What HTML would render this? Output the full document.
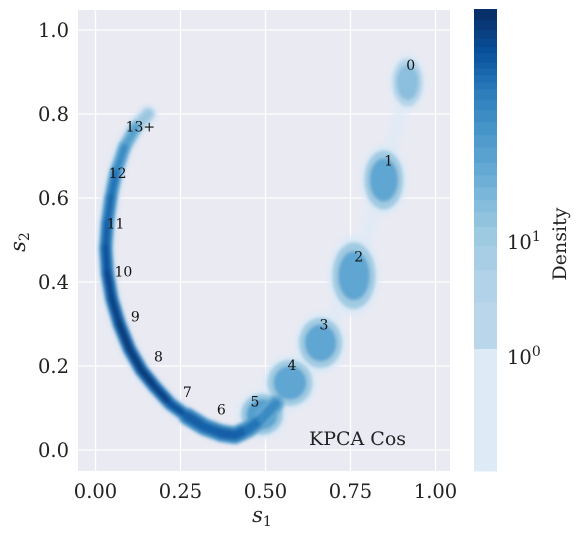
<!DOCTYPE html>
<html><head><meta charset="utf-8"><style>
body{margin:0;background:#fff;}
svg text{font-family:"DejaVu Serif","Liberation Serif",serif;}
</style></head><body>
<svg id="chart" width="578" height="535" xmlns="http://www.w3.org/2000/svg">
<defs>
<filter id="blur" x="-50%" y="-50%" width="200%" height="200%"><feGaussianBlur stdDeviation="3"/></filter>
<filter id="blur2" x="-50%" y="-50%" width="200%" height="200%"><feGaussianBlur stdDeviation="1.5"/></filter>
<clipPath id="plotclip"><rect x="78" y="10" width="372" height="461"/></clipPath>
</defs>
<rect x="78" y="10" width="372" height="461" fill="#eaeaf2"/>
<g id="grid"></g>
<g id="density" clip-path="url(#plotclip)"></g>
<g id="labels"></g>
<text x="309" y="445" font-size="19" fill="#222">KPCA Cos</text>
<g id="axes"></g>
<text x="262" y="522" font-size="21" font-style="italic" fill="#222" text-anchor="middle">s<tspan font-size="14" dy="4" font-style="normal">1</tspan></text>
<text transform="translate(25,242) rotate(-90)" font-size="21" font-style="italic" fill="#222" text-anchor="middle">s<tspan font-size="14" dy="4" font-style="normal">2</tspan></text>
<g id="colorbar"></g>
<text transform="translate(566,244) rotate(-90)" font-size="19" fill="#222" text-anchor="middle">Density</text>
</svg>
<script>
const xTicks=[0,0.25,0.5,0.75,1.0];
const xTickLabels=["0.00","0.25","0.50","0.75","1.00"];
const yTicks=[0,0.2,0.4,0.6,0.8,1.0];
const yTickLabels=["0.0","0.2","0.4","0.6","0.8","1.0"];
// arc ridge points (s1, s2) and relative density (0..1)
const arcX=[0.155,0.12,0.085,0.06,0.045,0.035,0.03,0.035,0.048,0.07,0.1,0.135,0.175,0.22,0.27,0.32,0.37,0.41,0.45,0.49,0.53];
const arcY=[0.80,0.77,0.72,0.66,0.60,0.54,0.48,0.42,0.36,0.30,0.24,0.19,0.15,0.11,0.08,0.055,0.04,0.035,0.05,0.075,0.11];
const arcD=[0.3,0.5,0.6,0.7,0.75,0.8,0.85,0.9,0.92,0.95,0.95,0.95,0.92,0.85,0.8,0.78,0.8,0.78,0.7,0.6,0.5];
// clusters
const clX=[0.918,0.848,0.76,0.662,0.572,0.49];
const clY=[0.875,0.643,0.415,0.255,0.16,0.085];
const clRx=[0.05,0.065,0.072,0.072,0.075,0.07];
const clRy=[0.065,0.08,0.09,0.068,0.062,0.055];
const clD=[0.4,0.55,0.55,0.55,0.55,0.6];
const labelText=["0","1","2","3","4","5","6","7","8","9","10","11","12","13+"];
const labelX=[0.927,0.862,0.774,0.672,0.578,0.469,0.37,0.27,0.185,0.117,0.082,0.059,0.065,0.132];
const labelY=[0.917,0.689,0.461,0.299,0.202,0.116,0.097,0.138,0.223,0.318,0.425,0.539,0.66,0.77];
// colorbar bands (fraction from top)
const cbEdges=[0,0.024,0.045,0.064,0.082,0.096,0.116,0.129,0.143,0.159,0.174,0.197,0.219,0.245,0.273,0.30,0.333,0.36,0.386,0.414,0.44,0.472,0.513,0.565,0.635,0.736,1];
const cbTicks=[1,0];
const cbTickLabels=["1","0"];

const NS="http://www.w3.org/2000/svg";
const sx=v=>95.5+340*v, sy=v=>450-420*v;
function mk(tag,attrs,parent){const e=document.createElementNS(NS,tag);for(const k in attrs)e.setAttribute(k,attrs[k]);parent.appendChild(e);return e;}
function blues(t){const stops=[[222,235,247],[198,219,239],[158,202,225],[107,174,214],[66,146,198],[33,113,181],[8,81,156],[8,48,107]];
 t=Math.max(0,Math.min(1,t));const p=t*(stops.length-1),i=Math.min(stops.length-2,Math.floor(p)),f=p-i;
 const c=stops[i].map((a,j)=>Math.round(a+(stops[i+1][j]-a)*f));return `rgb(${c[0]},${c[1]},${c[2]})`;}
const grid=document.getElementById('grid'),axes=document.getElementById('axes');
xTicks.forEach((v,i)=>{
 const l=mk('line',{x1:sx(v),x2:sx(v),y1:10,y2:471,stroke:'#fff','stroke-width':1.3},grid);
 
 const t=mk('text',{x:sx(v),y:498,'font-size':19.5,fill:'#222','text-anchor':'middle'},axes);t.textContent=xTickLabels[i];
 
});
yTicks.forEach((v,i)=>{
 const l=mk('line',{x1:78,x2:450,y1:sy(v),y2:sy(v),stroke:'#fff','stroke-width':1.3},grid);
 
 const t=mk('text',{x:69,y:sy(v)+7,'font-size':19.5,fill:'#222','text-anchor':'end'},axes);t.textContent=yTickLabels[i];
 
});
const dens=document.getElementById('density');
const halo=mk('g',{filter:'url(#blur)'},dens);
const linkPts=[[arcX[arcX.length-1],arcY[arcY.length-1]]].concat(clX.map((x,i)=>[x,clY[i]]).reverse());
const lk=mk('polyline',{points:linkPts.map(p=>sx(p[0])+','+sy(p[1])).join(' '),fill:'none',stroke:blues(0.0),'stroke-width':14,'stroke-linecap':'round','stroke-linejoin':'round',opacity:0.7},halo);

clX.forEach((x,i)=>{
 const e=mk('ellipse',{cx:sx(x),cy:sy(clY[i]),rx:clRx[i]*340*1.05,ry:clRy[i]*420*1.05,fill:blues(0.02)},halo);
 
});
let pts=arcX.map((x,i)=>sx(x)+','+sy(arcY[i])).join(' ');
const h2=mk('polyline',{points:pts,fill:'none',stroke:blues(0.05),'stroke-width':18,'stroke-linecap':'round','stroke-linejoin':'round'},halo);

const core=mk('g',{filter:'url(#blur2)'},dens);
clX.forEach((x,i)=>{
 const e1=mk('ellipse',{cx:sx(x),cy:sy(clY[i]),rx:clRx[i]*340*0.88,ry:clRy[i]*420*0.88,fill:blues(clD[i]*0.5)},core);
 
 const e2=mk('ellipse',{cx:sx(x),cy:sy(clY[i]),rx:clRx[i]*340*0.65,ry:clRy[i]*420*0.65,fill:blues(clD[i]*0.85)},core);
 
});
for(let i=0;i<arcX.length-1;i++){
 const a=mk('line',{x1:sx(arcX[i]),y1:sy(arcY[i]),x2:sx(arcX[i+1]),y2:sy(arcY[i+1]),stroke:blues(arcD[i]*0.75),'stroke-width':i>13?17:13,'stroke-linecap':'round'},core);
 
}
for(let i=0;i<arcX.length-1;i++){
 const a=mk('line',{x1:sx(arcX[i]),y1:sy(arcY[i]),x2:sx(arcX[i+1]),y2:sy(arcY[i+1]),stroke:blues(arcD[i]),'stroke-width':i>13?10:7,'stroke-linecap':'round'},core);
 
}
const lab=document.getElementById('labels');
labelText.forEach((s,i)=>{
 const t=mk('text',{x:sx(labelX[i]),y:sy(labelY[i])+5,'font-size':14,fill:'#111','text-anchor':'middle'},lab);t.textContent=s;
 
});
const cb=document.getElementById('colorbar');
const cbTop=9,cbH=462;
for(let i=0;i<cbEdges.length-1;i++){
 const t=1-(i/(cbEdges.length-2));
 const r=mk('rect',{x:474,y:cbTop+cbEdges[i]*cbH,width:23,height:(cbEdges[i+1]-cbEdges[i])*cbH+0.5,fill:i==cbEdges.length-2?blues(0):blues(0.15+0.85*t)},cb);
 
}
const cbY=[357,242];
cbTicks.forEach((v,i)=>{
 const y=v==0?cbY[0]:cbY[1];
 const t=mk('text',{x:507,y:y+7,'font-size':19.5,fill:'#222'},cb);
 t.textContent='10';const sp=mk('tspan',{'font-size':14,dy:-8},t);sp.textContent=cbTickLabels[i];
 
});
</script>
</body></html>
